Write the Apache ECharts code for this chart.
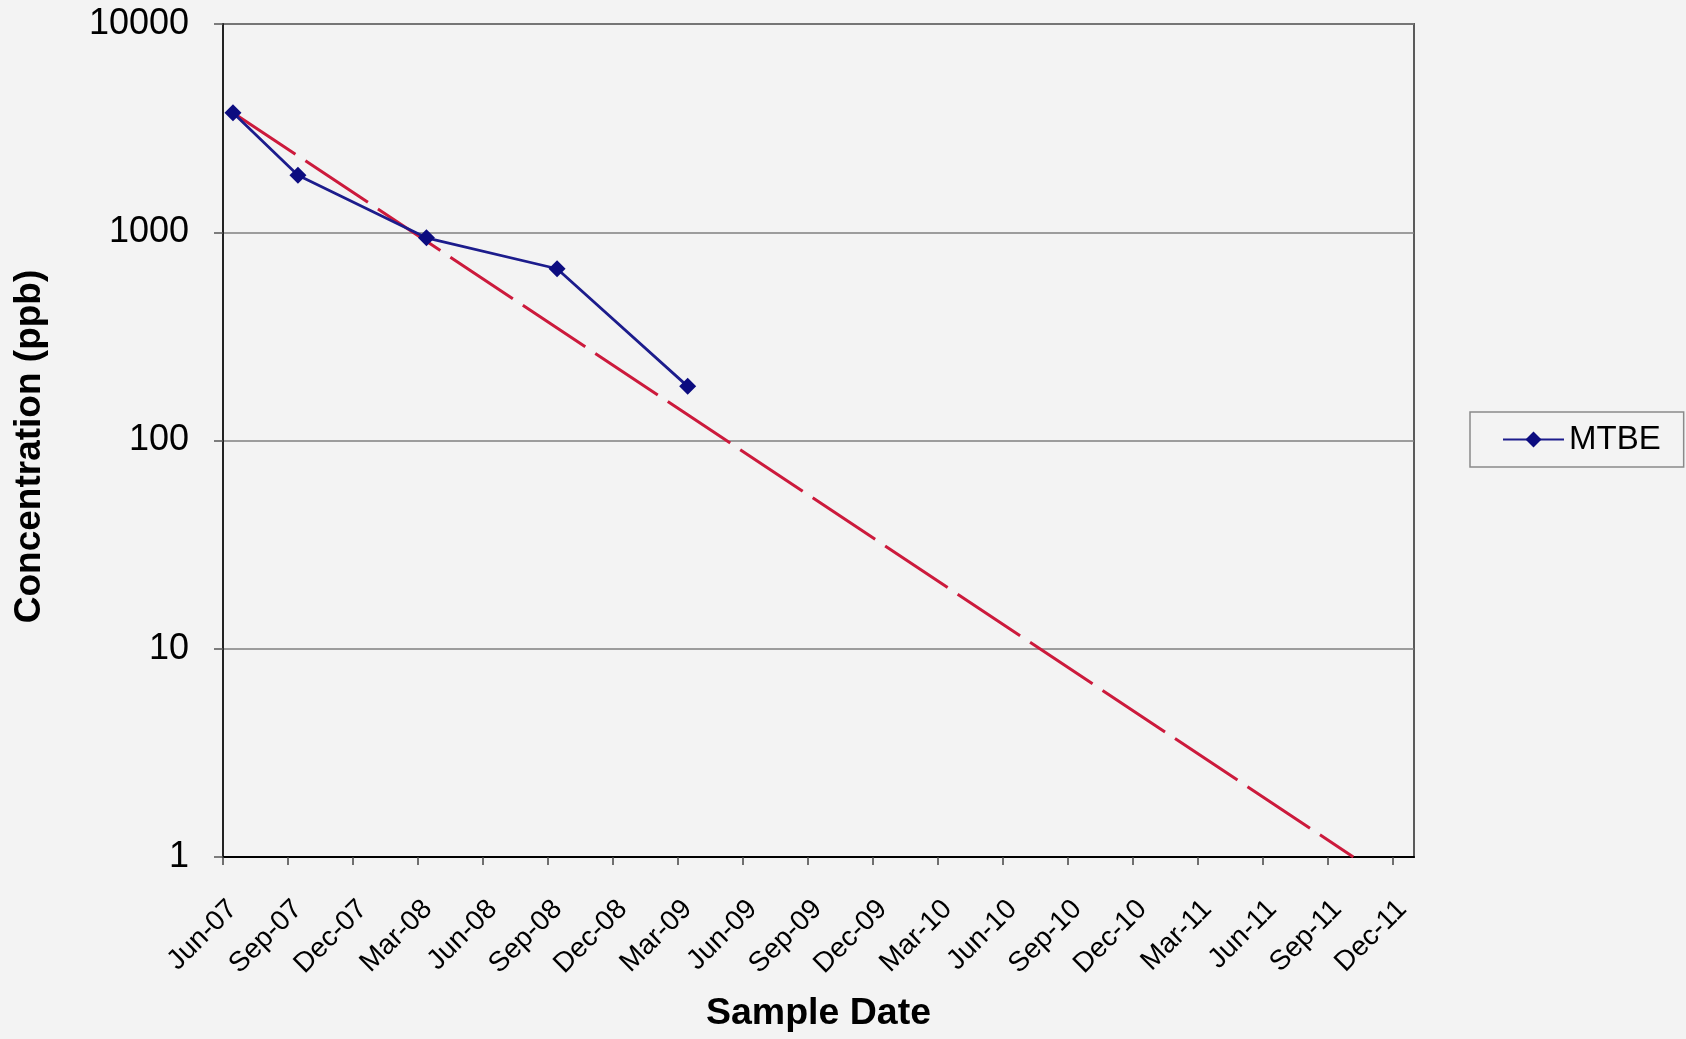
<!DOCTYPE html>
<html>
<head>
<meta charset="utf-8">
<title>MTBE Concentration</title>
<script src="https://cdn.jsdelivr.net/npm/echarts@6/dist/echarts.min.js"></script>
<style>
  html, body { margin: 0; padding: 0; background: #f3f3f3; }
  #chart { width: 1686px; height: 1039px; }
</style>
</head>
<body>
<div id="chart"></div>
<script>
// x axis tick labels, one every 3 months starting Jun-07
const tickLabels = [
  'Jun-07', 'Sep-07', 'Dec-07', 'Mar-08', 'Jun-08', 'Sep-08', 'Dec-08',
  'Mar-09', 'Jun-09', 'Sep-09', 'Dec-09', 'Mar-10', 'Jun-10', 'Sep-10',
  'Dec-10', 'Mar-11', 'Jun-11', 'Sep-11', 'Dec-11'
];

// MTBE samples
const sampleDates = ['2007-06-15', '2007-09-15', '2008-03-13', '2008-09-14', '2009-03-15'];
const mtbeValues = [3750, 1880, 940, 668, 182];

// dashed trend line (start / end)
const trendDates = ['2007-06-15', '2011-10-07'];
const trendValues = [3750, 1];

// months since Jun 1 2007
function monthsFromStart(dateStr) {
  const [y, m, d] = dateStr.split('-').map(Number);
  return (y - 2007) * 12 + (m - 6) + (d - 1) / 30.4;
}

const mtbeData = sampleDates.map((d, i) => [monthsFromStart(d), mtbeValues[i]]);
const trendData = trendDates.map((d, i) => [monthsFromStart(d), trendValues[i]]);
const tickValues = tickLabels.map((_, i) => i * 3);

const chart = echarts.init(document.getElementById('chart'));
chart.setOption({
  animation: false,
  backgroundColor: '#f3f3f3',
  textStyle: { fontFamily: 'Liberation Sans, Arial, sans-serif' },
  grid: {
    left: 223, right: 272, top: 24, bottom: 182,
    show: true,
    borderColor: '#5a5a5a',
    borderWidth: 2,
    backgroundColor: 'transparent'
  },
  legend: {
    data: ['MTBE'],
    left: 1470,
    top: 412,
    orient: 'vertical',
    padding: [11, 23, 11, 32],
    borderColor: '#8a8a8a',
    borderWidth: 1.5,
    itemWidth: 61,
    itemHeight: 20,
    textStyle: { fontSize: 33, color: '#000' }
  },
  xAxis: {
    type: 'value',
    min: 0,
    max: 55,
    interval: 3,
    name: 'Sample Date',
    nameLocation: 'middle',
    nameGap: 138,
    nameTextStyle: { fontSize: 37.5, fontWeight: 'bold', color: '#000' },
    splitLine: { show: false },
    axisLine: { show: true, lineStyle: { color: '#000', width: 2 } },
    axisTick: {
      show: true,
      length: 8,
      customValues: tickValues,
      lineStyle: { color: '#444', width: 1.5 }
    },
    axisLabel: {
      rotate: 45,
      fontSize: 28,
      color: '#000',
      margin: 38,
      verticalAlign: 'top',
      customValues: tickValues,
      formatter: (v) => (v % 3 === 0 && tickLabels[v / 3]) ? tickLabels[v / 3] : ''
    }
  },
  yAxis: {
    type: 'log',
    logBase: 10,
    min: 1,
    max: 10000,
    name: 'Concentration (ppb)',
    nameLocation: 'middle',
    nameRotate: 90,
    nameGap: 175,
    nameTextStyle: { fontSize: 37, fontWeight: 'bold', color: '#000', padding: [0, 12, 0, 0] },
    axisLine: { show: true, lineStyle: { color: '#222', width: 2 } },
    axisTick: { show: true, length: 9, lineStyle: { color: '#555', width: 1.5 } },
    axisLabel: {
      fontSize: 36,
      color: '#000',
      margin: 34,
      formatter: (v) => String(Math.round(v))
    },
    splitLine: { show: true, lineStyle: { color: '#7f7f7f', width: 1.5 } },
    minorTick: { show: false }
  },
  series: [
    {
      name: 'Trend',
      type: 'line',
      data: trendData,
      symbol: 'none',
      silent: true,
      z: 2,
      lineStyle: { color: '#cc1a3c', width: 3, type: [75, 12] }
    },
    {
      name: 'MTBE',
      type: 'line',
      data: mtbeData,
      symbol: 'diamond',
      symbolSize: 17,
      z: 3,
      itemStyle: { color: '#0c0c80' },
      lineStyle: { color: '#1c1c8c', width: 2.8 }
    }
  ]
});
</script>
</body>
</html>
